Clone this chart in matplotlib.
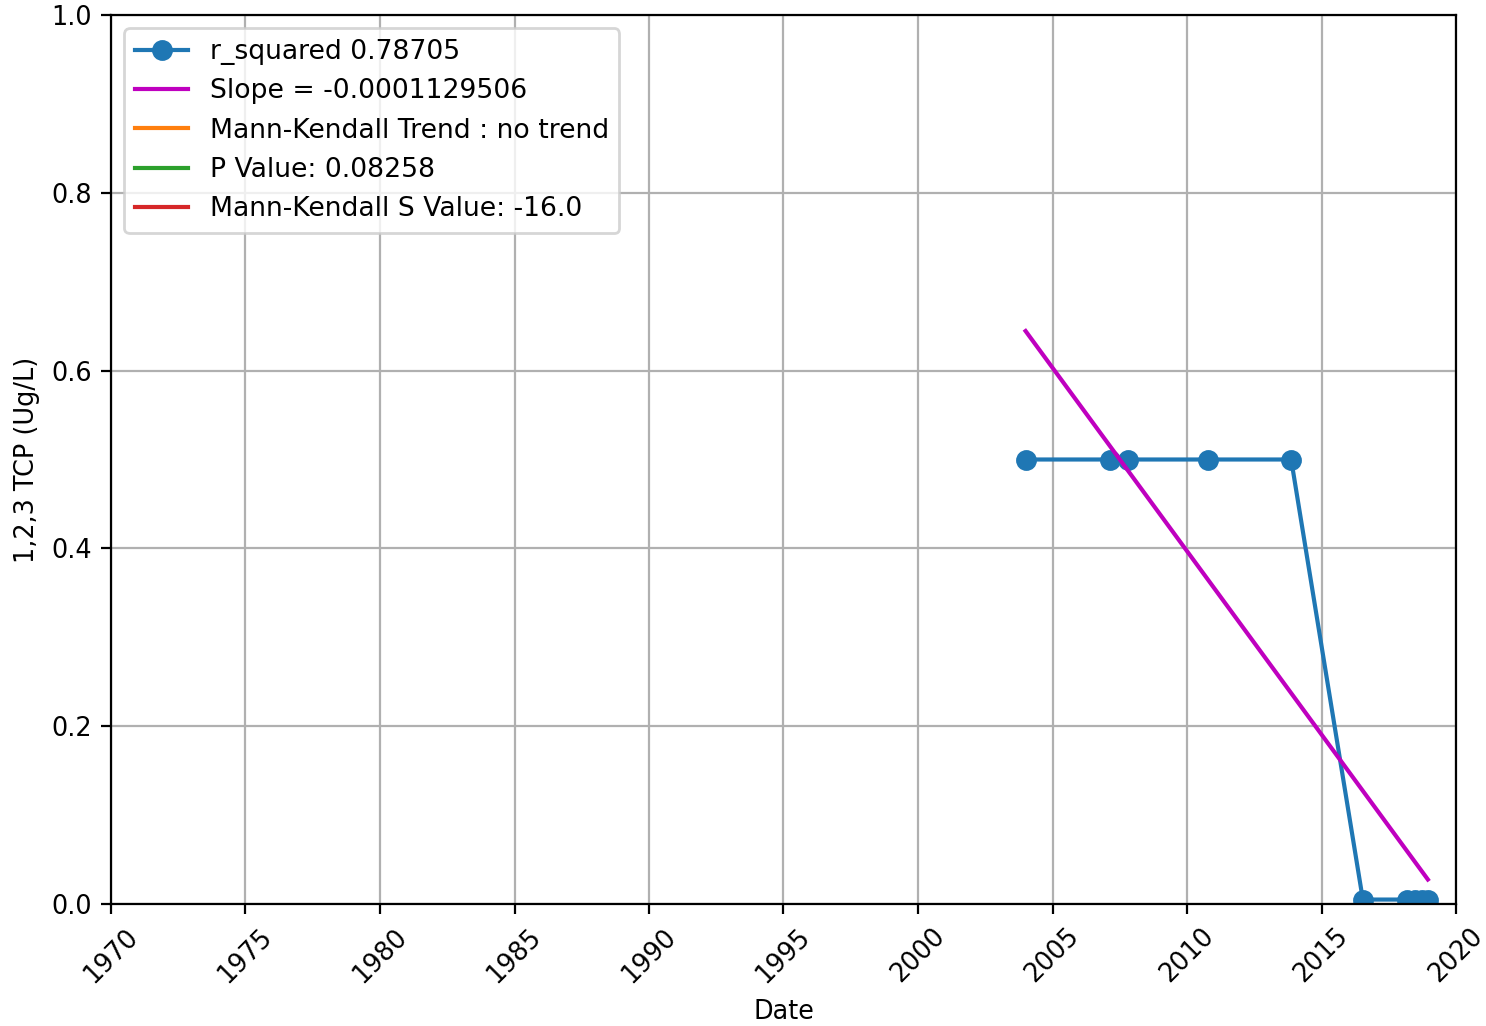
import datetime as dt
import numpy as np
import matplotlib
matplotlib.use("Agg")
import matplotlib.pyplot as plt
import matplotlib.dates as mdates

# sample dates and 1,2,3 TCP results
dates = [dt.datetime(2004, 1, 1), dt.datetime(2007, 2, 20), dt.datetime(2007, 10, 20),
         dt.datetime(2010, 10, 10), dt.datetime(2013, 11, 15), dt.datetime(2016, 7, 15),
         dt.datetime(2018, 3, 1), dt.datetime(2018, 6, 20), dt.datetime(2018, 9, 20),
         dt.datetime(2018, 12, 15)]
tcp = [0.5, 0.5, 0.5, 0.5, 0.5, 0.005, 0.005, 0.005, 0.005, 0.005]

r_squared = 0.78705
slope = -0.0001129506
trend = "no trend"
p_value = 0.08258
s_value = -16.0
fit_start = 0.6445

plt.rcParams["xtick.labelsize"] = 9.2
plt.rcParams["ytick.labelsize"] = 9.2
plt.rcParams["axes.labelsize"] = 9.2

fig = plt.figure(figsize=(7.43, 5.13), dpi=200)
ax = fig.add_axes([111 / 1486, 1 - 904 / 1026, 1345 / 1486, 889 / 1026])

ax.plot(dates, tcp, "-o", color="#1f77b4", markersize=6.5, label="r_squared %s" % r_squared)

days = np.array([(d - dates[0]).days for d in dates])
ax.plot([dates[0], dates[-1]], [fit_start, fit_start + slope * days[-1]], color="m",
        label="Slope = %s" % slope)
ax.plot([], [], color="#ff7f0e", label="Mann-Kendall Trend : %s" % trend)
ax.plot([], [], color="#2ca02c", label="P Value: %s" % p_value)
ax.plot([], [], color="#d62728", label="Mann-Kendall S Value: %s" % s_value)

ax.set_xlim(dt.datetime(1970, 1, 1), dt.datetime(2020, 1, 1))
ax.set_ylim(0, 1)
ax.xaxis.set_major_locator(mdates.YearLocator(5))
ax.xaxis.set_major_formatter(mdates.DateFormatter("%Y"))
plt.setp(ax.get_xticklabels(), rotation=45)
ax.grid(True, color="#b0b0b0", linewidth=0.8)
ax.set_xlabel("Date")
ax.set_ylabel("1,2,3 TCP (Ug/L)")
ax.legend(loc="upper left", fontsize=9.6)

fig.savefig("out.png", dpi=200)
